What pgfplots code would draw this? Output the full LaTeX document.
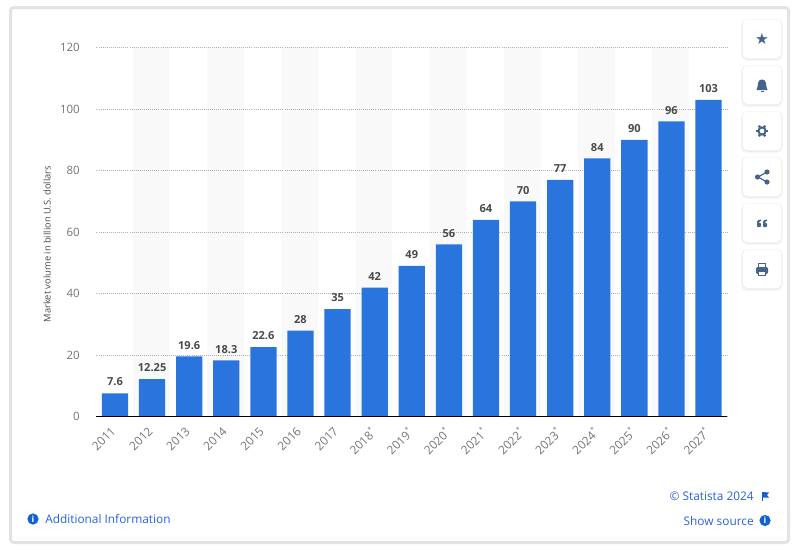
\documentclass[border=0pt]{standalone}
\usepackage{pgfplots}
\pgfplotsset{compat=1.18}
\usepackage{fontspec}
\setmainfont{Open Sans}
\definecolor{barblue}{HTML}{2A74DE}
\definecolor{tick}{HTML}{757575}
\definecolor{lab}{HTML}{4A4A4A}
\definecolor{link}{HTML}{2A62D8}
\definecolor{infoblue}{HTML}{0F62D6}
\definecolor{icon}{HTML}{45648C}
\definecolor{frame}{HTML}{E3E3E3}
\newcommand{\st}{\textsuperscript{\tiny *}}
\begin{document}
\begin{tikzpicture}[x=0.75pt,y=-0.75pt]
\useasboundingbox (0,0) rectangle (800,550);
\fill[white] (0,0) rectangle (800,550);
\draw[frame,line width=2.25pt,rounded corners=2.5pt] (10.5,7.5) rectangle (788.5,542.5);
\begin{axis}[
  at={(72.34pt,-312.5pt)},anchor=south west,
  scale only axis,width=473.0pt,height=276.75pt,
  xmin=-0.5,xmax=16.5,ymin=0,ymax=120,
  axis x line=bottom, axis y line=left,
  axis line style={draw=none,-},
  clip=false,
  ytick={0,20,40,60,80,100,120},
  xtick={0,...,16},
  xticklabels={2011,2012,2013,2014,2015,2016,2017,2018\st,2019\st,2020\st,2021\st,2022\st,2023\st,2024\st,2025\st,2026\st,2027\st},
  major tick length=0pt,
  ymajorgrids,
  grid style={draw=black!30,line width=0.55pt,densely dotted},
  /pgf/number format/assume math mode=true,
  yticklabel style={font=\fontsize{8.6}{10}\selectfont,text=tick,xshift=-9pt},
  xticklabel style={font=\fontsize{8.9}{10}\selectfont,text=tick,rotate=45,anchor=north east,xshift=-4pt,yshift=1pt},
  ylabel={Market volume in billion U.S. dollars},
  ylabel style={font=\fontsize{7}{9}\selectfont,text=lab,at={(axis description cs:0,0.4675)},anchor=south,yshift=30.75pt},
]
\addplot[ybar,bar width=27.5pt,bar shift=-0.6pt,draw=none,fill=black,fill opacity=0.025,forget plot]
 coordinates {(1,120)(3,120)(5,120)(7,120)(9,120)(11,120)(13,120)(15,120)};
\addplot[ybar,bar width=19.7pt,bar shift=0pt,draw=none,fill=barblue,
  point meta=explicit symbolic,
  nodes near coords,
  nodes near coords style={font=\bfseries\fontsize{8.3}{10}\selectfont,text=lab,anchor=south,yshift=1.9pt}]
 coordinates {(0,7.6)[7.6] (1,12.25)[12.25] (2,19.6)[19.6] (3,18.3)[18.3] (4,22.6)[22.6] (5,28)[28] (6,35)[35] (7,42)[42] (8,49)[49] (9,56)[56] (10,64)[64] (11,70)[70] (12,77)[77] (13,84)[84] (14,90)[90] (15,96)[96] (16,103)[103]};
\draw[black,line width=0.9pt] (axis cs:-0.5,0) -- (axis cs:16.5,0);
\end{axis}
% buttons
\foreach \t in {20,66,112,158,204,250}{
  \fill[black,opacity=0.03,rounded corners=4pt] (741,\t-1) rectangle (783,\t+41);
  \fill[black,opacity=0.03,rounded corners=4pt] (742,\t) rectangle (782,\t+40);
  \fill[white,rounded corners=3pt] (743,\t) rectangle (781,\t+38);
}
% star
\node[text=icon,inner sep=0pt,font=\fontspec{DejaVu Sans}\fontsize{11.5}{11.5}\selectfont] at (762,39) {★};
% bell
\fill[icon] (756.5,90) .. controls (758,88) and (757.5,85) .. (758,83) .. controls (758.5,80.5) and (760,79.5) .. (762,79.5) .. controls (764,79.5) and (765.5,80.5) .. (766,83) .. controls (766.5,85) and (766,88) .. (767.5,90) -- cycle;
\fill[icon] (760.5,91) rectangle (763.5,92.2);
% gear
\draw[icon,line width=1.5pt] (762,131) circle (3.6);
\foreach \a in {0,60,...,300}{\draw[icon,line width=1.7pt] (762,131)++(\a:4.2) -- ++(\a:2);}
% share
\draw[icon,line width=0.9pt] (767,172) -- (758,177) -- (767,182);
\fill[icon] (767,172) circle (2.6) (767,182) circle (2.6) (757.5,177) circle (2.6);
% quote
\fill[icon,rounded corners=0.6pt] (757,223) rectangle (761,227) (763,223) rectangle (767,227);
\fill[icon] (757,223.5) -- (757,222) .. controls (757,220.5) and (758.5,219.5) .. (761,219.5) -- (761,221) .. controls (759.5,221) and (759,222) .. (759,223.5) -- cycle;
\fill[icon] (763,223.5) -- (763,222) .. controls (763,220.5) and (764.5,219.5) .. (767,219.5) -- (767,221) .. controls (765.5,221) and (765,222) .. (765,223.5) -- cycle;
% print
\fill[icon,rounded corners=1pt] (756,267) rectangle (768,274);
\draw[icon,line width=0.9pt] (758.5,267) -- (758.5,263.5) -- (765.5,263.5) -- (765.5,267);
\fill[white] (759,271) rectangle (765,276);
\draw[icon,line width=0.9pt] (758.5,271) rectangle (765.5,275.5);
% footer
\newcommand{\info}[2]{\fill[infoblue] (#1,#2) circle (5.6);
  \node[text=white,inner sep=0pt,font=\bfseries\fontsize{6.5}{7}\selectfont] at (#1,#2) {i};}
\info{33}{519}
\node[anchor=west,inner sep=0pt,text=link,font=\fontsize{8.9}{11}\selectfont] at (45,519) {Additional Information};
\node[anchor=east,inner sep=0pt,text=link,font=\fontsize{8.9}{11}\selectfont] at (754,496.5) {© Statista 2024};
\node[anchor=east,inner sep=0pt,text=link,font=\fontsize{8.9}{11}\selectfont] at (754,521) {Show source};
\info{765}{520.5}
\draw[infoblue,line width=0.8pt] (762.5,492) -- (762.5,501);
\fill[infoblue] (762.5,492) -- (769,492.5) -- (767,495) -- (769,497.5) -- (762.5,497.5) -- cycle;
\end{tikzpicture}
\end{document}
